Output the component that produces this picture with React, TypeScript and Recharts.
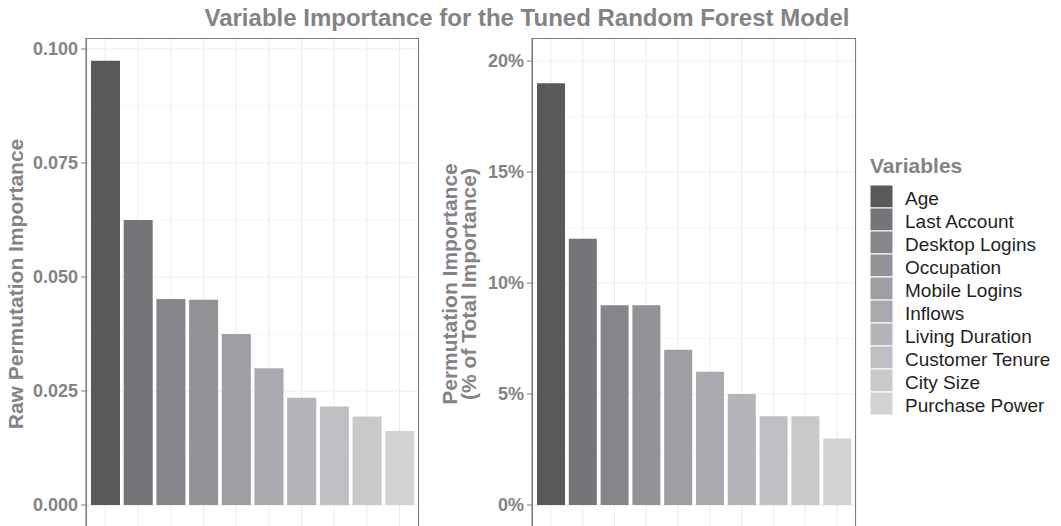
import { BarChart, Bar, XAxis, YAxis, CartesianGrid, Cell } from 'recharts';

const categories = [
  'Age',
  'Last Account',
  'Desktop Logins',
  'Occupation',
  'Mobile Logins',
  'Inflows',
  'Living Duration',
  'Customer Tenure',
  'City Size',
  'Purchase Power',
];
const rawImportance = [0.0974, 0.0625, 0.0452, 0.045, 0.0375, 0.03, 0.0235, 0.0216, 0.0194, 0.0162];
const pctImportance = [19, 12, 9, 9, 7, 6, 5, 4, 4, 3];
const barColors = [
  '#58595b', '#747579', '#85868a', '#929396', '#9d9ea1',
  '#a9aaad', '#b4b5b8', '#bebfc2', '#c8c9cb', '#d2d3d5',
];
const rawTicks = [0, 0.025, 0.05, 0.075, 0.1];
const rawMinor = [0.0125, 0.0375, 0.0625, 0.0875];
const pctTicks = [0, 5, 10, 15, 20];
const pctMinor = [2.5, 7.5, 12.5, 17.5];

const FONT = '"Liberation Sans", Arial, Helvetica, sans-serif';
const GREY = '#838385';
const BORDER = '#7a7a7a';

const rawData = categories.map((name, i) => ({ name, value: rawImportance[i] }));
const pctData = categories.map((name, i) => ({ name, value: pctImportance[i] }));

const tickStyle = { fontSize: 18, fontWeight: 700, fill: GREY, fontFamily: FONT };

interface PanelProps {
  data: { name: string; value: number }[]
  left: number
  width: number
  yWidth: number
  rightMargin: number
  domain: [number, number]
  ticks: number[]
  minor: number[]
  pad: number
  format: (v: number) => string
}

function Panel({ data, left, width, yWidth, rightMargin, domain, ticks, minor, pad, format }: PanelProps) {
  const top = 38
  const height = 530
  const plotW = width - yWidth - rightMargin
  return (
    <div style={{ position: 'absolute', left, top: 0 }}>
      <BarChart
        width={width}
        height={height}
        data={data}
        margin={{ top, right: rightMargin, bottom: 3, left: 0 }}
        barCategoryGap={2}
      >
        <CartesianGrid horizontal={true} vertical={false} horizontalValues={minor} stroke="#f3f3f3" strokeWidth={0.8} />
        <CartesianGrid horizontal={true} vertical={true} horizontalValues={ticks} stroke="#ebebeb" strokeWidth={1} />
        <XAxis dataKey="name" hide interval={0} padding={{ left: pad, right: pad }} />
        <YAxis
          width={yWidth}
          domain={domain}
          allowDataOverflow
          ticks={ticks}
          interval={0}
          tickFormatter={format}
          tick={tickStyle}
          tickSize={5}
          tickMargin={3}
          tickLine={{ stroke: BORDER }}
          axisLine={{ stroke: BORDER }}
        />
        <Bar dataKey="value" isAnimationActive={false}>
          {data.map((entry, index) => (
            <Cell key={`cell-${index}`} fill={barColors[index]} />
          ))}
        </Bar>
      </BarChart>
      {/* panel border */}
      <div
        style={{
          position: 'absolute',
          left: yWidth,
          top,
          width: plotW,
          height: height - top,
          border: `1px solid ${BORDER}`,
          boxSizing: 'border-box',
          pointerEvents: 'none',
        }}
      />
    </div>
  )
}

export default function App() {
  return (
    <div
      style={{
        position: 'fixed',
        left: 0,
        top: 0,
        width: 1061,
        height: 526,
        overflow: 'hidden',
        background: '#fff',
        fontFamily: FONT,
      }}
    >
      <Panel
        data={rawData}
        left={0}
        width={430}
        yWidth={86}
        rightMargin={11}
        domain={[-0.004825, 0.10241]}
        ticks={rawTicks}
        minor={rawMinor}
        pad={3}
        format={(v) => v.toFixed(3)}
      />
      <Panel
        data={pctData}
        left={430}
        width={430}
        yWidth={102}
        rightMargin={4}
        domain={[-0.99, 21.04]}
        ticks={pctTicks}
        minor={pctMinor}
        pad={3}
        format={(v) => `${v}%`}
      />

      {/* title and axis titles */}
      <svg width={1061} height={526} style={{ position: 'absolute', left: 0, top: 0, pointerEvents: 'none' }}>
        <text x={527} y={26} textAnchor="middle" fontSize={24} fontWeight={700} fill={GREY} fontFamily={FONT}>
          Variable Importance for the Tuned Random Forest Model
        </text>
        <text
          transform="translate(23,284) rotate(-90)"
          textAnchor="middle"
          fontSize={21}
          fontWeight={700}
          fill={GREY}
          fontFamily={FONT}
        >
          Raw Permutation Importance
        </text>
        <text
          transform="translate(457,284) rotate(-90)"
          textAnchor="middle"
          fontSize={21}
          fontWeight={700}
          fill={GREY}
          fontFamily={FONT}
        >
          Permutation Importance
        </text>
        <text
          transform="translate(476,284) rotate(-90)"
          textAnchor="middle"
          fontSize={21}
          fontWeight={700}
          fill={GREY}
          fontFamily={FONT}
        >
          (% of Total Importance)
        </text>

        {/* legend */}
        <text x={870} y={173} fontSize={21} fontWeight={700} fill={GREY} fontFamily={FONT}>
          Variables
        </text>
        {categories.map((name, i) => (
          <g key={name}>
            <rect x={870} y={185 + i * 23} width={23} height={23} fill={barColors[i]} stroke="#fff" strokeWidth={1} />
            <text x={905} y={205 + i * 23} fontSize={19} fill="#1f1f1f" fontFamily={FONT}>
              {name}
            </text>
          </g>
        ))}
      </svg>
    </div>
  )
}
